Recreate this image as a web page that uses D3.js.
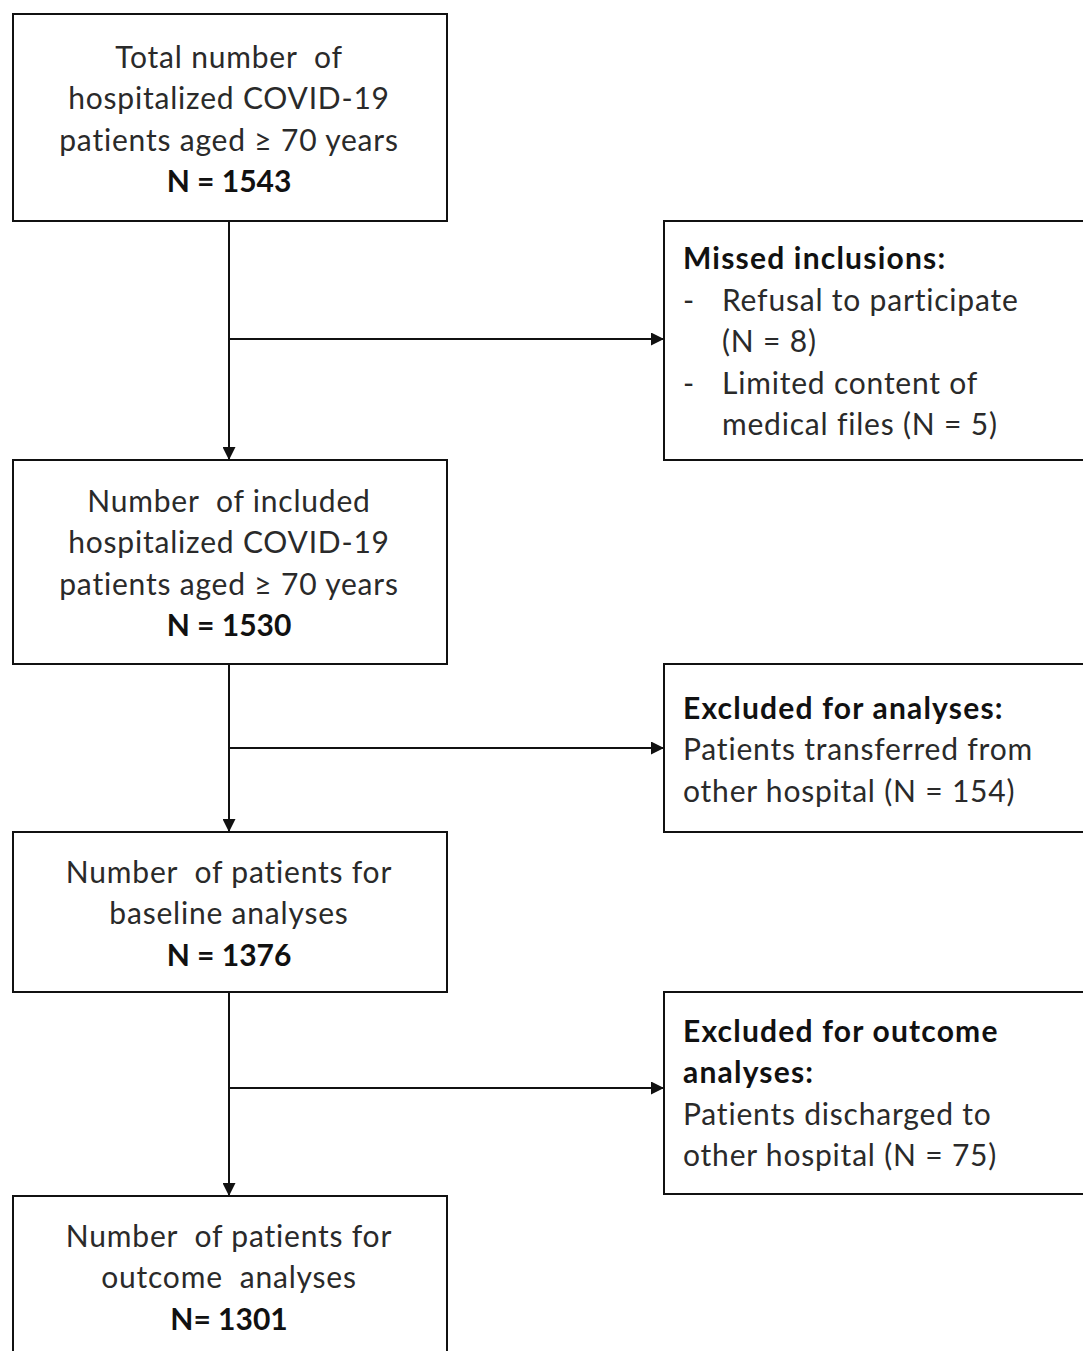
<!DOCTYPE html>
<html>
<head>
<meta charset="utf-8">
<script src="https://cdn.jsdelivr.net/npm/d3@7"></script>
<style>
  body { margin: 0; background: #fff; }
  svg { display: block; }
  text { white-space: pre; }
</style>
</head>
<body>
<div id="chart"></div>
<script>
// flowchart content
var mainLabels = [
  ["Total number  of", "hospitalized COVID-19", "patients aged \u2265 70 years"],
  ["Number  of included", "hospitalized COVID-19", "patients aged \u2265 70 years"],
  ["Number  of patients for", "baseline analyses"],
  ["Number  of patients for", "outcome  analyses"]
];
var mainCounts = ["N = 1543", "N = 1530", "N = 1376", "N= 1301"];

var sideTitles = [
  ["Missed inclusions:"],
  ["Excluded for analyses:"],
  ["Excluded for outcome", "analyses:"]
];
var sideLines = [
  [{dash: true, t: "Refusal to participate"}, {t: "(N = 8)"},
   {dash: true, t: "Limited content of"}, {t: "medical files (N = 5)"}],
  [{t: "Patients transferred from"}, {t: "other hospital (N = 154)"}],
  [{t: "Patients discharged to"}, {t: "other hospital (N = 75)"}]
];

// layout
var svgWidth = 1083;
var svgHeight = 1351;
var mainX = [13, 447];
var sideX = [664, 1095];
var mainY = [[14, 221], [460, 664], [832, 992], [1196, 1360]];
var sideY = [[221, 460], [664, 832], [992, 1194]];
var branchY = [339, 748, 1088];
var mainMid = [118, 562, 912, 1276];
var sideMid = [340, 748, 1092];
var lineH = 41.5;
var fontSize = 30;
var font = "Lato, 'Open Sans', sans-serif";
var textColor = "#2a2a2a";

var svg = d3.select("#chart").append("svg")
  .attr("width", svgWidth)
  .attr("height", svgHeight);

var defs = svg.append("defs");
defs.append("marker")
  .attr("id", "arrow")
  .attr("viewBox", "0 0 10 10")
  .attr("refX", 10)
  .attr("refY", 5)
  .attr("markerWidth", 7)
  .attr("markerHeight", 6.5)
  .attr("markerUnits", "strokeWidth")
  .attr("orient", "auto")
  .append("path")
  .attr("d", "M0,0 L10,5 L0,10 Z")
  .attr("fill", "#111");

var cx = (mainX[0] + mainX[1]) / 2 - 1;

// connectors
var vline = svg.append("g").attr("stroke", "#111").attr("stroke-width", 2).attr("fill", "none");
mainY.slice(1).forEach(function(b, i) {
  vline.append("line")
    .attr("x1", cx).attr("y1", mainY[i][1])
    .attr("x2", cx).attr("y2", b[0])
    .attr("marker-end", "url(#arrow)");
});
branchY.forEach(function(y) {
  vline.append("line")
    .attr("x1", cx).attr("y1", y)
    .attr("x2", sideX[0]).attr("y2", y)
    .attr("marker-end", "url(#arrow)");
});

// boxes
var boxes = svg.append("g").attr("fill", "#fff").attr("stroke", "#111").attr("stroke-width", 2);
mainY.forEach(function(b) {
  boxes.append("rect")
    .attr("x", mainX[0]).attr("y", b[0])
    .attr("width", mainX[1] - mainX[0]).attr("height", b[1] - b[0]);
});
sideY.forEach(function(b) {
  boxes.append("rect")
    .attr("x", sideX[0]).attr("y", b[0])
    .attr("width", sideX[1] - sideX[0]).attr("height", b[1] - b[0]);
});

// main box text
mainLabels.forEach(function(lines, i) {
  var all = lines.map(function(t) { return {t: t, bold: false}; })
    .concat([{t: mainCounts[i], bold: true}]);
  var y0 = mainMid[i] - (all.length - 1) * lineH / 2;
  svg.append("g").selectAll("text")
    .data(all)
    .enter()
    .append("text")
    .attr("x", cx)
    .attr("y", function(d, j) { return y0 + j * lineH; })
    .attr("text-anchor", "middle")
    .attr("dominant-baseline", "central")
    .attr("font-family", font)
    .attr("font-size", fontSize)
    .attr("letter-spacing", function(d) { return d.bold ? 0 : 0.8; })
    .attr("font-weight", function(d) { return d.bold ? "bold" : "normal"; })
    .attr("fill", function(d) { return d.bold ? "#111" : textColor; })
    .text(function(d) { return d.t; });
});

// side box text
var sideLeft = 683;
var indent = 722;
sideTitles.forEach(function(title, i) {
  var all = title.map(function(t) { return {t: t, bold: true}; })
    .concat(sideLines[i]);
  var y0 = sideMid[i] - (all.length - 1) * lineH / 2;
  var g = svg.append("g")
    .attr("font-family", font)
    .attr("font-size", fontSize);
  var hasDash = sideLines[i].some(function(d) { return d.dash; });
  g.selectAll("text.line")
    .data(all)
    .enter()
    .append("text")
    .attr("class", "line")
    .attr("x", function(d) { return d.bold || !hasDash ? sideLeft : indent; })
    .attr("y", function(d, j) { return y0 + j * lineH; })
    .attr("dominant-baseline", "central")
    .attr("letter-spacing", function(d) { return d.bold ? 1.2 : 0.8; })
    .attr("font-weight", function(d) { return d.bold ? "bold" : "normal"; })
    .attr("fill", function(d) { return d.bold ? "#111" : textColor; })
    .text(function(d) { return d.t; });
  g.selectAll("text.dash")
    .data(all.filter(function(d) { return d.dash; }))
    .enter()
    .append("text")
    .attr("class", "dash")
    .attr("x", sideLeft)
    .attr("y", function(d) { return y0 + all.indexOf(d) * lineH; })
    .attr("dominant-baseline", "central")
    .attr("fill", textColor)
    .text("-");
});
</script>
</body>
</html>
